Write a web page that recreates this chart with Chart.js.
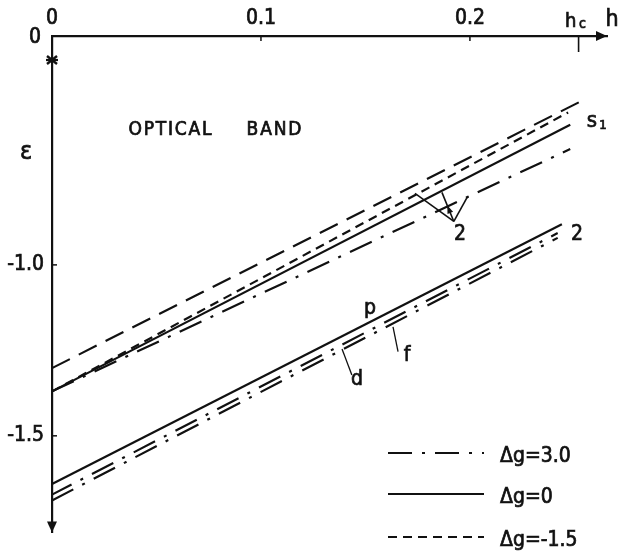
<!DOCTYPE html>
<html><head><meta charset="utf-8">
<script src="https://cdn.jsdelivr.net/npm/chart.js@4.4.1/dist/chart.umd.min.js"></script>
<style>html,body{margin:0;padding:0;background:#fff}#wrap{width:619px;height:553px}</style>
</head><body><div id="wrap"><canvas id="c" width="619" height="553"></canvas></div>
<script>
// Energy levels eps versus field h in the optical band (endpoints of each level line)
const sTopH = [0, 0.2526];   const sTopEps = [-1.302, -0.523];
const sNegH = [0, 0.247];    const sNegEps = [-1.370, -0.554];   // dg = -1.5
const sZeroH = [0, 0.248];   const sZeroEps = [-1.370, -0.590];  // dg = 0
const sPosH = [0, 0.248];    const sPosEps = [-1.370, -0.661];   // dg = 3.0
const pH = [0, 0.244];       const pEps = [-1.641, -0.881];
const dH = [0, 0.242];       const dEps = [-1.672, -0.907];
const fH = [0, 0.242];       const fEps = [-1.689, -0.921];
const xTicks = [0, 0.1, 0.2];
const yTicks = [-1.0, -1.5];
const hC = 0.252;
const legendLabels = ['\u0394g=3.0', '\u0394g=0', '\u0394g=-1.5'];

const INK = '#111';
const FONT = "'Liberation Sans Narrow','DejaVu Sans Condensed','Liberation Sans',sans-serif";
const DASH_DOT = [24, 10, 3, 10];
const SHORT_DASH = [9, 6];
const LONG_DASH = [20, 10];

const pts = (hs, es) => hs.map((h, i) => ({x: h, y: es[i]}));
const lineSet = (data, dash, offset) => ({
  data, borderColor: INK, borderWidth: 2.2, borderDash: dash, borderDashOffset: offset || 0,
  pointRadius: 0, fill: false, tension: 0, showLine: true
});

const datasets = [
  lineSet(pts(sTopH, sTopEps), LONG_DASH),
  lineSet(pts(sNegH, sNegEps), SHORT_DASH),
  lineSet(pts(sZeroH, sZeroEps), []),
  lineSet(pts(sPosH, sPosEps), DASH_DOT),
  lineSet(pts(pH, pEps), []),
  lineSet(pts(dH, dEps), DASH_DOT, 2),
  lineSet(pts(fH, fEps), DASH_DOT, 0)
];

// Annotation geometry, in data units (h, eps)
const vVertex = {x: 0.1923, y: -0.873};
const vArms = [{x: 0.1737, y: -0.791}, {x: 0.1866, y: -0.788}, {x: 0.199, y: -0.799}];
const leaders = [
  [{x: 0.1388, y: -1.246}, {x: 0.1435, y: -1.322}],
  [{x: 0.1632, y: -1.181}, {x: 0.1656, y: -1.254}]
];
const notes = [
  {t: '2', x: 0.1952, y: -0.912},
  {t: '2', x: 0.2512, y: -0.912},
  {t: 'p', x: 0.1522, y: -1.127},
  {t: 'f', x: 0.1699, y: -1.266},
  {t: 'd', x: 0.1459, y: -1.336}
];

function seg(ctx, x1, y1, x2, y2, w, dash) {
  ctx.save();
  ctx.strokeStyle = INK; ctx.lineWidth = w || 2; ctx.setLineDash(dash || []);
  ctx.beginPath(); ctx.moveTo(x1, y1); ctx.lineTo(x2, y2); ctx.stroke();
  ctx.restore();
}
function tri(ctx, a, b, c) {
  ctx.save(); ctx.fillStyle = INK;
  ctx.beginPath(); ctx.moveTo(a[0], a[1]); ctx.lineTo(b[0], b[1]); ctx.lineTo(c[0], c[1]); ctx.closePath(); ctx.fill();
  ctx.restore();
}
function text(ctx, t, x, y, size, align, spacing) {
  ctx.save();
  ctx.fillStyle = INK; ctx.strokeStyle = INK; ctx.lineWidth = 0.7;
  ctx.font = size + 'px ' + FONT;
  ctx.textBaseline = 'middle';
  const sp = spacing || 0;
  const chars = Array.from(t);
  const total = chars.reduce((s, c) => s + ctx.measureText(c).width + sp, 0) - sp;
  let cx = align === 'left' ? x : x - total / 2;
  chars.forEach(c => {
    ctx.textAlign = 'left';
    ctx.fillText(c, cx, y); ctx.strokeText(c, cx, y);
    cx += ctx.measureText(c).width + sp;
  });
  ctx.restore();
}

const decor = {
  id: 'decor',
  afterDraw(chart) {
    const ctx = chart.ctx, xs = chart.scales.x, ys = chart.scales.y, a = chart.chartArea;
    const X = v => xs.getPixelForValue(v), Y = v => ys.getPixelForValue(v);
    // axis arrows
    tri(ctx, [a.right - 11, a.top - 5], [a.right, a.top], [a.right - 11, a.top + 5]);
    tri(ctx, [a.left - 5, a.bottom - 11], [a.left, a.bottom], [a.left + 5, a.bottom - 11]);
    // inward tick marks
    xTicks.slice(1).forEach(v => seg(ctx, X(v), a.top, X(v), a.top + 5, 1.5));
    seg(ctx, X(hC), a.top, X(hC), a.top + 16, 1.6);
    yTicks.forEach(v => seg(ctx, a.left, Y(v), a.left + 5, Y(v), 1.5));
    // break mark on the eps axis
    const bx = a.left, by = a.top + 24;
    seg(ctx, bx - 5, by - 4, bx + 5, by + 4, 2.4);
    seg(ctx, bx - 5, by + 4, bx + 5, by - 4, 2.4);
    seg(ctx, bx - 6, by, bx + 6, by, 2.2);
    // axis names and the origin label of eps
    text(ctx, '0', a.left - 17, a.top + 2, 21);
    text(ctx, 'h', a.right + 5, a.top - 16, 23);
    text(ctx, 'h', X(hC) - 8, a.top - 14, 20);
    text(ctx, 'c', X(hC) + 4, a.top - 12, 14);
    text(ctx, '\u03b5', a.left - 26, 152, 25);
    text(ctx, 'OPTICAL', 170, 130, 19, 'center', 1.8);
    text(ctx, 'BAND', 274, 130, 19, 'center', 1.8);
    // level labels
    text(ctx, 's', 592, 121, 22);
    text(ctx, '1', 603, 126, 13);
    notes.forEach(n => text(ctx, n.t, X(n.x), Y(n.y), 21));
    // pointer to the three s1 doublet lines
    vArms.forEach(p => seg(ctx, X(vVertex.x), Y(vVertex.y), X(p.x), Y(p.y), 1.6));
    const m = vArms[1], ang = Math.atan2(Y(m.y) - Y(vVertex.y), X(m.x) - X(vVertex.x));
    const hx = X(vVertex.x) + (X(m.x) - X(vVertex.x)) * 0.55, hy = Y(vVertex.y) + (Y(m.y) - Y(vVertex.y)) * 0.55;
    tri(ctx, [hx, hy],
      [hx - 8 * Math.cos(ang) + 3 * Math.sin(ang), hy - 8 * Math.sin(ang) - 3 * Math.cos(ang)],
      [hx - 8 * Math.cos(ang) - 3 * Math.sin(ang), hy - 8 * Math.sin(ang) + 3 * Math.cos(ang)]);
    leaders.forEach(l => seg(ctx, X(l[0].x), Y(l[0].y), X(l[1].x), Y(l[1].y), 1.3));
    // legend
    const rows = [{ds: 3, y: 453}, {ds: 2, y: 494}, {ds: 1, y: 537}];
    rows.forEach((r, i) => {
      seg(ctx, 388, r.y, 484, r.y, 2.2, chart.data.datasets[r.ds].borderDash);
      text(ctx, legendLabels[i], 500, r.y + 4, 21, 'left');
    });
  }
};

const tickFont = {family: FONT, size: 21};
new Chart(document.getElementById('c'), {
  type: 'line',
  data: {datasets},
  options: {
    responsive: false, animation: false, devicePixelRatio: 1,
    layout: {padding: {left: 0, top: 0, right: 12, bottom: 3}},
    plugins: {legend: {display: false}, tooltip: {enabled: false}},
    scales: {
      x: {
        type: 'linear', position: 'top', min: 0, max: 0.2656,
        grid: {display: false, drawTicks: false},
        border: {display: true, color: INK, width: 2.2},
        ticks: {padding: 5, color: INK, font: tickFont, textStrokeColor: INK, textStrokeWidth: 0.7,
                callback: v => v === 0 ? '0' : v.toFixed(1)},
        afterBuildTicks: s => { s.ticks = xTicks.map(v => ({value: v})); },
        afterFit: s => { s.height = 36; }
      },
      y: {
        type: 'linear', min: -1.7825, max: -0.3305,
        grid: {display: false, drawTicks: false},
        border: {display: true, color: INK, width: 2.2},
        ticks: {padding: 8, color: INK, font: tickFont, textStrokeColor: INK, textStrokeWidth: 0.7,
                callback: v => v.toFixed(1)},
        afterBuildTicks: s => { s.ticks = yTicks.map(v => ({value: v})); },
        afterFit: s => { s.width = 52; }
      }
    }
  },
  plugins: [decor]
});
</script></body></html>
